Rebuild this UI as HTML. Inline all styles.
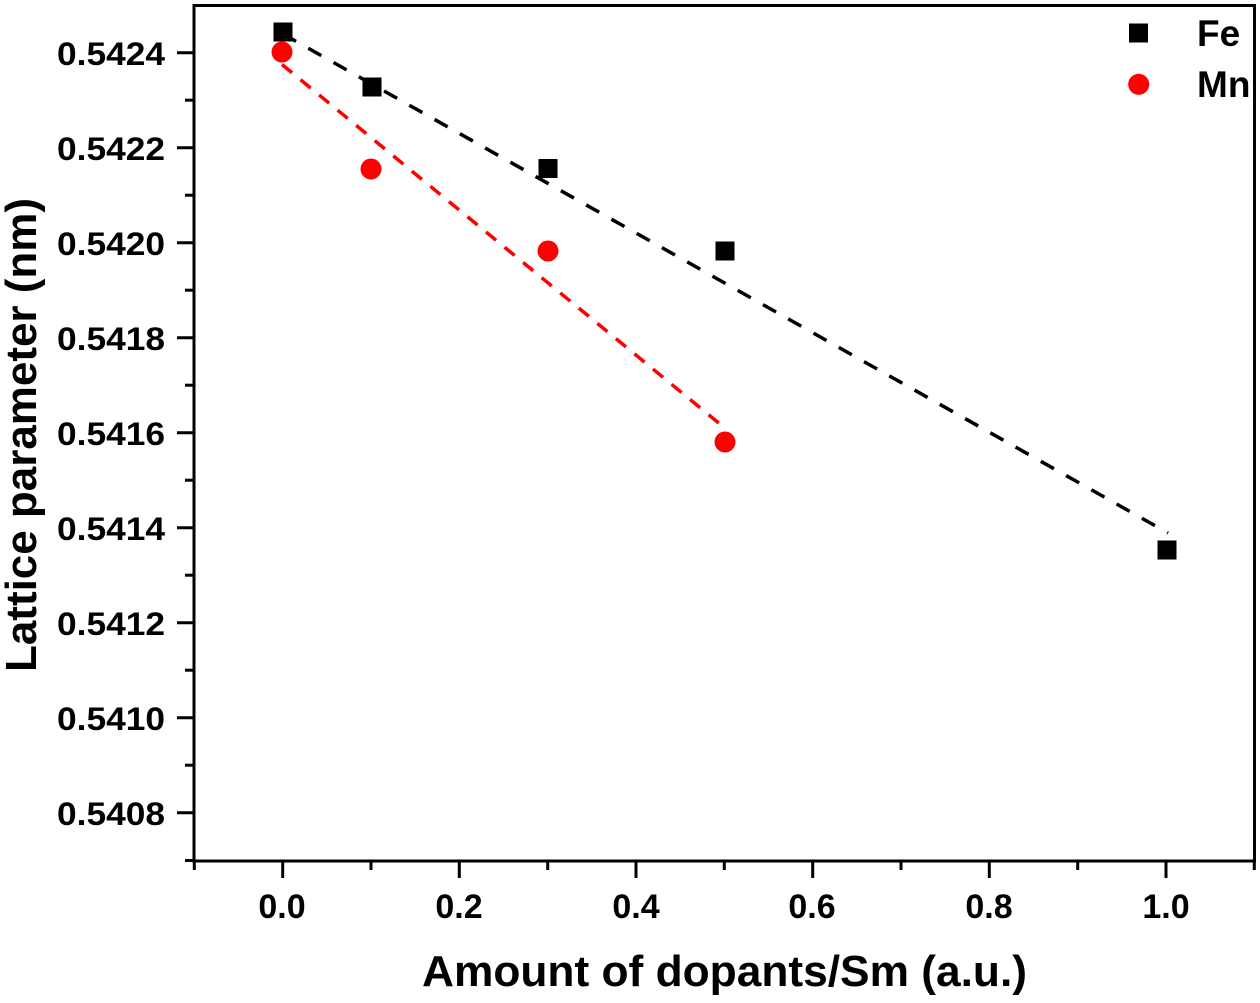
<!DOCTYPE html>
<html>
<head>
<meta charset="utf-8">
<style>
  html, body { margin: 0; padding: 0; background: #fff; }
  svg { display: block; }
  text { font-family: "Liberation Sans", Arial, sans-serif; font-weight: bold; fill: #000; }
</style>
</head>
<body>
<svg width="1260" height="1003" viewBox="0 0 1260 1003" xmlns="http://www.w3.org/2000/svg">
  <rect x="0" y="0" width="1260" height="1003" fill="#fff"/>

  <!-- fit lines -->
  <line x1="283" y1="34" x2="1168" y2="533" stroke="#000" stroke-width="3.5" stroke-dasharray="15 14"/>
  <line x1="282" y1="64.5" x2="726" y2="429" stroke="#ff0000" stroke-width="3.5" stroke-dasharray="13 11"/>

  <!-- Fe squares -->
  <g fill="#000">
    <rect x="273.5" y="22.5" width="19" height="19"/>
    <rect x="362.5" y="77.5" width="19" height="19"/>
    <rect x="538.5" y="159" width="19" height="19"/>
    <rect x="715.5" y="241.5" width="19" height="19"/>
    <rect x="1157.5" y="540.5" width="19" height="19"/>
  </g>
  <!-- Mn circles -->
  <g fill="#ff0000">
    <circle cx="282" cy="52" r="10.5"/>
    <circle cx="371" cy="169" r="10.5"/>
    <circle cx="548" cy="251" r="10.5"/>
    <circle cx="725" cy="442" r="10.5"/>
  </g>

  <!-- frame -->
  <rect x="194" y="5.5" width="1060.5" height="855.5" fill="none" stroke="#000" stroke-width="3"/>

  <!-- y ticks -->
  <g stroke="#000" stroke-width="3">
    <line x1="177" y1="52.7" x2="194" y2="52.7"/>
    <line x1="177" y1="147.7" x2="194" y2="147.7"/>
    <line x1="177" y1="242.7" x2="194" y2="242.7"/>
    <line x1="177" y1="337.7" x2="194" y2="337.7"/>
    <line x1="177" y1="432.7" x2="194" y2="432.7"/>
    <line x1="177" y1="527.7" x2="194" y2="527.7"/>
    <line x1="177" y1="622.7" x2="194" y2="622.7"/>
    <line x1="177" y1="717.7" x2="194" y2="717.7"/>
    <line x1="177" y1="812.7" x2="194" y2="812.7"/>
    <line x1="185" y1="100.2" x2="194" y2="100.2"/>
    <line x1="185" y1="195.2" x2="194" y2="195.2"/>
    <line x1="185" y1="290.2" x2="194" y2="290.2"/>
    <line x1="185" y1="385.2" x2="194" y2="385.2"/>
    <line x1="185" y1="480.2" x2="194" y2="480.2"/>
    <line x1="185" y1="575.2" x2="194" y2="575.2"/>
    <line x1="185" y1="670.2" x2="194" y2="670.2"/>
    <line x1="185" y1="765.2" x2="194" y2="765.2"/>
    <line x1="185" y1="860.5" x2="194" y2="860.5"/>
  </g>

  <!-- x ticks -->
  <g stroke="#000" stroke-width="3">
    <line x1="282.7" y1="861" x2="282.7" y2="878"/>
    <line x1="459.3" y1="861" x2="459.3" y2="878"/>
    <line x1="636" y1="861" x2="636" y2="878"/>
    <line x1="812.7" y1="861" x2="812.7" y2="878"/>
    <line x1="989.3" y1="861" x2="989.3" y2="878"/>
    <line x1="1166" y1="861" x2="1166" y2="878"/>
    <line x1="194.3" y1="861" x2="194.3" y2="870"/>
    <line x1="371" y1="861" x2="371" y2="870"/>
    <line x1="547.7" y1="861" x2="547.7" y2="870"/>
    <line x1="724.3" y1="861" x2="724.3" y2="870"/>
    <line x1="901" y1="861" x2="901" y2="870"/>
    <line x1="1077.7" y1="861" x2="1077.7" y2="870"/>
    <line x1="1254.3" y1="861" x2="1254.3" y2="870"/>
  </g>

  <!-- y tick labels -->
  <g font-size="32" text-anchor="end">
    <text x="165" y="65" textLength="108" lengthAdjust="spacingAndGlyphs">0.5424</text>
    <text x="165" y="160" textLength="108" lengthAdjust="spacingAndGlyphs">0.5422</text>
    <text x="165" y="255" textLength="108" lengthAdjust="spacingAndGlyphs">0.5420</text>
    <text x="165" y="350" textLength="108" lengthAdjust="spacingAndGlyphs">0.5418</text>
    <text x="165" y="445" textLength="108" lengthAdjust="spacingAndGlyphs">0.5416</text>
    <text x="165" y="540" textLength="108" lengthAdjust="spacingAndGlyphs">0.5414</text>
    <text x="165" y="635" textLength="108" lengthAdjust="spacingAndGlyphs">0.5412</text>
    <text x="165" y="730" textLength="108" lengthAdjust="spacingAndGlyphs">0.5410</text>
    <text x="165" y="825" textLength="108" lengthAdjust="spacingAndGlyphs">0.5408</text>
  </g>

  <!-- x tick labels -->
  <g font-size="34" text-anchor="middle">
    <text x="282" y="918">0.0</text>
    <text x="459" y="918">0.2</text>
    <text x="636" y="918">0.4</text>
    <text x="812" y="918">0.6</text>
    <text x="989" y="918">0.8</text>
    <text x="1166" y="918">1.0</text>
  </g>

  <!-- axis titles -->
  <text x="422" y="986" font-size="44" textLength="605" lengthAdjust="spacingAndGlyphs">Amount of dopants/Sm (a.u.)</text>
  <text transform="translate(36,672) rotate(-90)" x="0" y="0" font-size="44" textLength="474" lengthAdjust="spacingAndGlyphs">Lattice parameter (nm)</text>

  <!-- legend -->
  <rect x="1129" y="23.5" width="19" height="19" fill="#000"/>
  <text x="1197" y="46" font-size="37">Fe</text>
  <circle cx="1138.7" cy="84.3" r="10.5" fill="#ff0000"/>
  <text x="1197" y="97" font-size="37">Mn</text>
</svg>
</body>
</html>
